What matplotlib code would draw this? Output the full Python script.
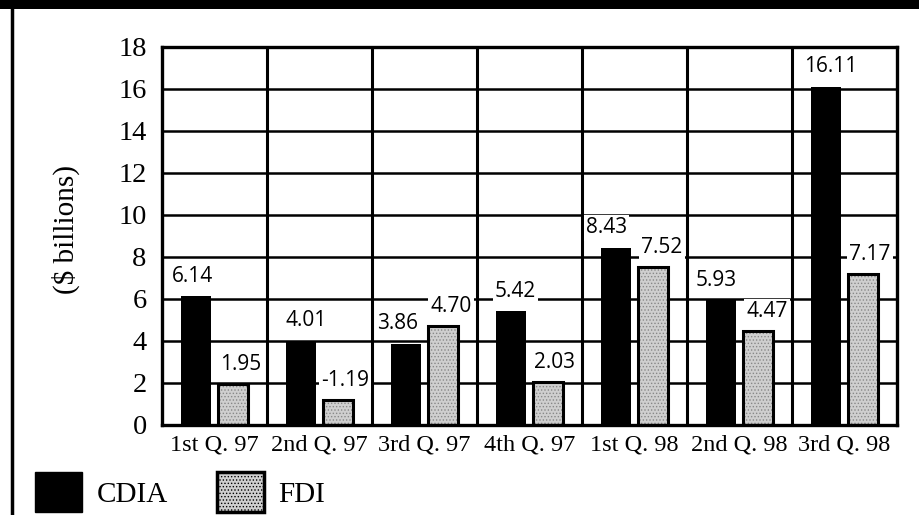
import numpy as np
import matplotlib
matplotlib.use("Agg")
import matplotlib.pyplot as plt
from matplotlib.patches import Rectangle
from matplotlib.lines import Line2D

# Quarterly flows, $ billions
quarters = ["1st Q. 97", "2nd Q. 97", "3rd Q. 97", "4th Q. 97",
            "1st Q. 98", "2nd Q. 98", "3rd Q. 98"]
cdia = [6.14, 4.01, 3.86, 5.42, 8.43, 5.93, 16.11]
fdi = [1.95, -1.19, 4.70, 2.03, 7.52, 4.47, 7.17]
series_names = ["CDIA", "FDI"]
y_ticks = [0, 2, 4, 6, 8, 10, 12, 14, 16, 18]

SERIF = ["Liberation Serif", "DejaVu Serif"]
SANS = ["Open Sans", "DejaVu Sans"]

W, H = 920, 515
fig = plt.figure(figsize=(W / 100, H / 100), dpi=100)
ax = fig.add_axes([162 / W, 1 - 425 / H, (897 - 162) / W, (425 - 47) / H])

x = np.arange(len(quarters))
bw = 0.285
x_c = x - 0.18
x_f = x + 0.175

# black bars
ax.bar(x_c, cdia, width=bw, color="black", edgecolor="black", linewidth=0, zorder=3)
# stippled grey bars with a black outline
fdi_h = np.abs(fdi)
plt.rcParams["hatch.linewidth"] = 0.6
ax.bar(x_f, fdi_h, width=bw, color="#cfcfcf", edgecolor="#888888",
       hatch=".....", linewidth=0, zorder=3)
ax.bar(x_f, fdi_h, width=bw, fill=False, edgecolor="black", linewidth=2.2, zorder=4)

ax.set_xlim(-0.5, len(quarters) - 0.5)
ax.set_ylim(0, 18)
ax.set_yticks(y_ticks)
ax.set_xticks(x)
ax.set_xticklabels(quarters, fontfamily=SERIF, fontsize=17.5)
ax.set_yticklabels([str(t) for t in y_ticks], fontfamily=SERIF, fontsize=20.5)
ax.tick_params(axis="both", length=0)
ax.tick_params(axis="y", pad=11)
ax.tick_params(axis="x", pad=7)

# grid: horizontal at every tick, vertical between quarters
ax.set_axisbelow(True)
ax.yaxis.grid(True, color="black", linewidth=1.8, zorder=1)
for b in x[:-1] + 0.5:
    ax.axvline(b, color="black", linewidth=2.2, zorder=1)
for s in ax.spines.values():
    s.set_linewidth(2.4)
    s.set_zorder(5)

ax.set_ylabel("($ billions)", fontfamily=SERIF, fontsize=21)
ax.yaxis.set_label_coords((80 - 162) / (897 - 162), (425 - 230) / (425 - 47))

# value labels on white boxes
px = 0.72
cdia_dx = [-3, 6, -8, 5, -9, -4, 5]
fdi_dx = [8, 7, 8, 7, 9, 9, 7]
box = dict(facecolor="white", edgecolor="none", pad=1.5)
for xi, v, h, d in list(zip(x_c, cdia, cdia, cdia_dx)) + list(zip(x_f, fdi, fdi_h, fdi_dx)):
    ax.annotate(f"{v:.2f}", (xi, h), xytext=(d * px, 20 * px),
                textcoords="offset points", ha="center", va="center",
                fontfamily=SANS, fontsize=15, bbox=box, zorder=6)

# legend
handles = [Rectangle((0, 0), 1, 1, facecolor="black", edgecolor="black"),
           Rectangle((0, 0), 1, 1, facecolor="#cfcfcf", edgecolor="black",
                     linewidth=2.5, hatch=".....")]
leg = fig.legend(handles, series_names, loc="lower left",
                 bbox_to_anchor=(9 / W, -23 / H), ncol=2, frameon=False,
                 prop={"family": SERIF, "size": 21}, handlelength=1.6,
                 handleheight=1.7, handletextpad=0.5, columnspacing=1.7)

# top band and left rule
fig.patches.append(Rectangle((0, 1 - 9 / H), 1, 9 / H, transform=fig.transFigure,
                             facecolor="black", edgecolor="none"))
fig.lines.append(Line2D([11.5 / W, 11.5 / W], [0, 1], transform=fig.transFigure,
                        color="black", linewidth=2.5))

fig.savefig("out.png", dpi=100)
